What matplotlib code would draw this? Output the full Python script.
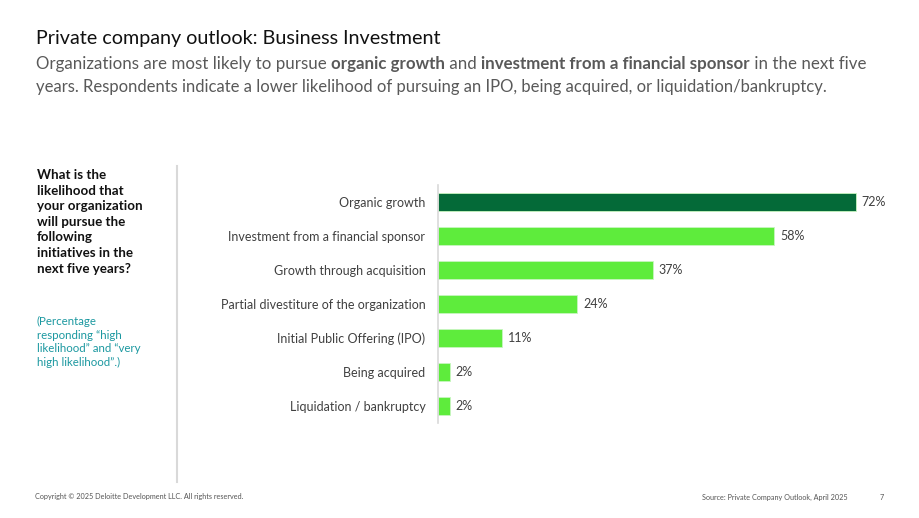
import matplotlib.pyplot as plt

categories = ['Organic growth', 'Investment from a financial sponsor', 'Growth through acquisition',
              'Partial divestiture of the organization', 'Initial Public Offering (IPO)',
              'Being acquired', 'Liquidation / bankruptcy']
values = [72, 58, 37, 24, 11, 2, 2]
bar_colors = ['#046a38', '#5eec3c', '#5eec3c', '#5eec3c', '#5eec3c', '#5eec3c', '#5eec3c']

plt.rcParams['font.family'] = ['Lato', 'DejaVu Sans']

W, H = 920, 518
fig = plt.figure(figsize=(W / 100, H / 100), dpi=100)

def fx(px):
    return px / W

def fy(py):
    return 1 - py / H

# title and subtitle
fig.text(fx(36), fy(44), 'Private company outlook: Business Investment', fontsize=14.2,
         color='#111111', va='baseline')

renderer = fig.canvas.get_renderer()

def rich_line(x, y, parts, size=12.2, color='#595959'):
    for txt, bold in parts:
        t = fig.text(fx(x), fy(y), txt, fontsize=size, color=color, va='baseline',
                     fontweight='bold' if bold else 'normal')
        bb = t.get_window_extent(renderer)
        x += bb.width

rich_line(36, 69, [('Organizations are most likely to pursue ', False), ('organic growth', True),
                   (' and ', False), ('investment from a financial sponsor', True),
                   (' in the next five', False)], size=12.18)
rich_line(36, 92, [('years. Respondents indicate a lower likelihood of pursuing an IPO, being acquired, '
                    'or liquidation/bankruptcy.', False)], size=12.0)

# left question
fig.text(fx(37), fy(169), 'What is the\nlikelihood that\nyour organization\nwill pursue the\nfollowing\n'
         'initiatives in the\nnext five years?', fontsize=9.6, fontweight='bold', color='#111111',
         va='top', linespacing=1.36)
fig.text(fx(37), fy(316), '(Percentage\nresponding \u201chigh\nlikelihood\u201d and \u201cvery\nhigh likelihood\u201d.)',
         fontsize=8.3, color='#1b98a0', va='top', linespacing=1.3)

# separator line
fig.add_artist(plt.Line2D([fx(177), fx(177)], [fy(166), fy(482)], color='#d9d9d9', lw=1.5))

# chart
ax = fig.add_axes([fx(438), fy(423), fx(80 * 5.8), (423 - 185) / H])
y = list(range(len(categories)))
ax.barh(y, values, height=0.53, color=bar_colors, edgecolor='#c8f5c0', linewidth=0.6)
ax.set_xlim(0, 80)
ax.set_ylim(len(categories) - 0.5, -0.5)
ax.set_yticks(y)
ax.set_yticklabels(categories, fontsize=9, color='#404040')
ax.tick_params(axis='y', length=0, pad=9)
ax.set_xticks([])
for s in ['top', 'right', 'bottom']:
    ax.spines[s].set_visible(False)
ax.spines['left'].set_color('#d9d9d9')
ax.spines['left'].set_linewidth(1.2)
for i, v in enumerate(values):
    ax.text(v + 1, i, f'{v}%', va='center', ha='left', fontsize=9, color='#404040')

# footer
fig.text(fx(35), fy(497), 'Copyright \u00a9 2025 Deloitte Development LLC. All rights reserved.',
         fontsize=5.2, color='#555555', va='center')
fig.text(fx(848), fy(497), 'Source: Private Company Outlook, April 2025', fontsize=5.25,
         color='#555555', va='center', ha='right')
fig.text(fx(884), fy(497), '7', fontsize=5.2, color='#555555', va='center', ha='right')

fig.savefig('out.png', dpi=100)
